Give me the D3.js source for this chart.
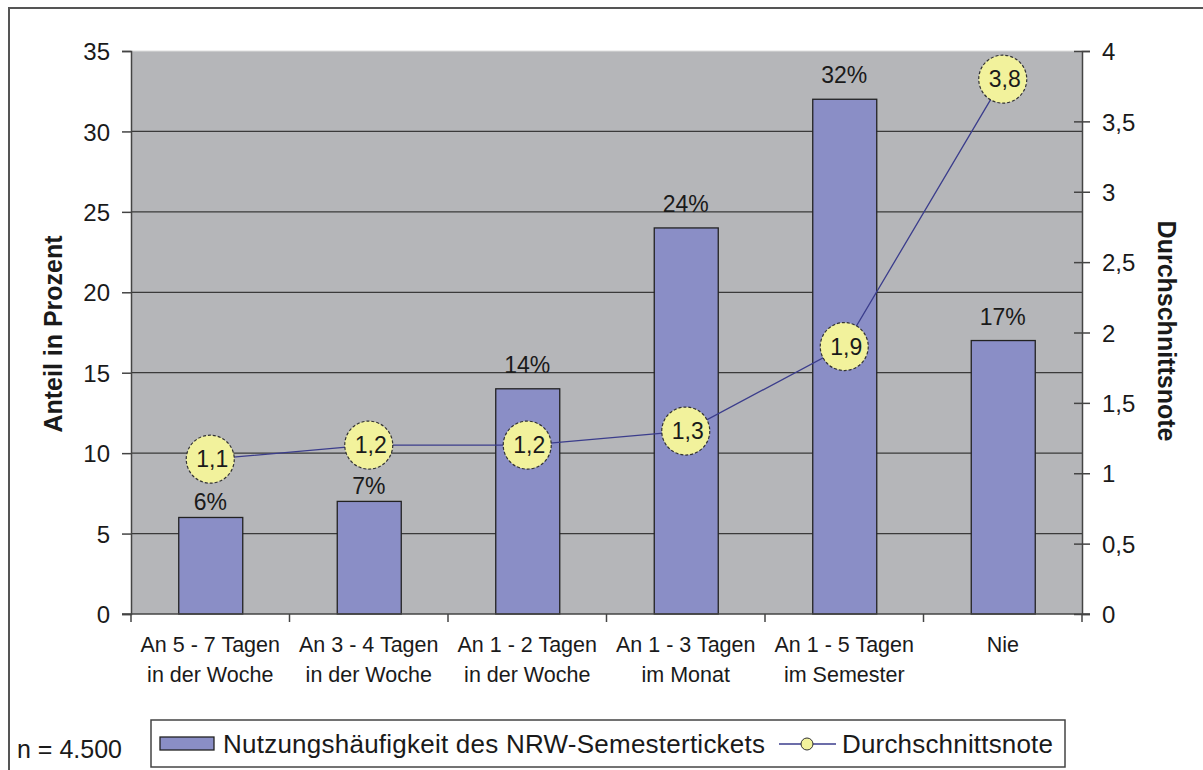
<!DOCTYPE html>
<html>
<head>
<meta charset="utf-8">
<script src="https://cdn.jsdelivr.net/npm/d3@7"></script>
<style>
body{margin:0;background:#fff;}
text{font-family:"Liberation Sans",Arial,sans-serif;fill:#1a1a1a;}
</style>
</head>
<body>
<svg id="chart" width="1203" height="770"></svg>
<script>
var categories = [['An 5 - 7 Tagen','in der Woche'],['An 3 - 4 Tagen','in der Woche'],['An 1 - 2 Tagen','in der Woche'],['An 1 - 3 Tagen','im Monat'],['An 1 - 5 Tagen','im Semester'],['Nie','']]
var anteil = [6, 7, 14, 24, 32, 17]
var noten = [1.1, 1.2, 1.2, 1.3, 1.9, 3.8]
var leftTicks = [0, 5, 10, 15, 20, 25, 30, 35]
var rightTicks = [0, 0.5, 1, 1.5, 2, 2.5, 3, 3.5, 4]

var svg = d3.select('#chart')
var pLeft = 131, pRight = 1082, pTop = 51, pBottom = 614

// outer frame
svg.append('path').attr('d','M9 770 L9 8 L1203 8').attr('fill','none').attr('stroke','#555').attr('stroke-width',2)

var x = d3.scaleBand().domain(d3.range(categories.length)).range([pLeft, pRight])
var y = d3.scaleLinear().domain([0, 35]).range([pBottom, pTop])
var y2 = d3.scaleLinear().domain([0, 4]).range([pBottom, pTop])
var fmt = function(v){ return String(v).replace('.', ',') }
var rCircle = 24

svg.append('rect').attr('x', pLeft).attr('y', pTop).attr('width', pRight-pLeft).attr('height', pBottom-pTop).attr('fill','#b5b6b9')

svg.selectAll('.grid').data(leftTicks.filter(d => d > 0 && d < 35)).join('line')
    .attr('class','grid').attr('x1', pLeft).attr('x2', pRight)
    .attr('y1', d => y(d)).attr('y2', d => y(d)).attr('stroke','#3a3a3a').attr('stroke-width',1.3)
svg.append('line').attr('x1',pLeft).attr('x2',pRight).attr('y1',pTop).attr('y2',pTop).attr('stroke','#ddd').attr('stroke-width',1)

// bars
var bw = 64
svg.selectAll('.bar').data(anteil).join('rect').attr('class','bar')
    .attr('x', (d,i) => x(i) + x.bandwidth()/2 - bw/2 + 0.5)
    .attr('y', d => y(d)).attr('width', bw).attr('height', d => pBottom - y(d))
    .attr('fill','#8a8ec6').attr('stroke','#222').attr('stroke-width',1.3)

// label sits closer to the bar when the circle above would cover it
svg.selectAll('.barlab').data(anteil).join('text').attr('class','barlab')
    .attr('x', (d,i) => x(i) + x.bandwidth()/2)
    .attr('y', function(d,i){
        var yy = y(d) - 16
        var cb = y2(noten[i]) + rCircle
        if (yy - 22 < cb && yy > y2(noten[i])) yy = y(d) - 7
        return yy
    })
    .attr('text-anchor','middle').attr('font-size',23).text(d => d + '%')

// left axis
var gl = svg.append('g').attr('transform', `translate(${pLeft},0)`)
    .call(d3.axisLeft(y).tickValues(leftTicks).tickSize(9).tickPadding(12))
gl.selectAll('text').attr('font-size',24).attr('dy','0.36em').style('font-family','"Liberation Sans",Arial,sans-serif')
gl.select('.domain').attr('stroke','#444').attr('stroke-width',1.5)
gl.selectAll('.tick line').attr('stroke','#444').attr('stroke-width',1.5)

// right axis
var gr = svg.append('g').attr('transform', `translate(${pRight},0)`)
    .call(d3.axisRight(y2).tickValues(rightTicks).tickFormat(fmt).tickSize(8).tickPadding(12))
gr.selectAll('.tick line').attr('x1',-8).attr('stroke','#444').attr('stroke-width',1.5)
gr.selectAll('text').attr('font-size',24).attr('dy','0.36em').style('font-family','"Liberation Sans",Arial,sans-serif')
gr.select('.domain').attr('stroke','#444').attr('stroke-width',1.5)

// bottom axis
var gb = svg.append('g').attr('transform', `translate(0,${pBottom})`)
gb.append('line').attr('x1',pLeft-9).attr('x2',pRight+8).attr('stroke','#444').attr('stroke-width',1.5)
gb.selectAll('.xt').data(d3.range(categories.length+1)).join('line').attr('class','xt')
    .attr('x1', i => pLeft + i*x.bandwidth()).attr('x2', i => pLeft + i*x.bandwidth())
    .attr('y1',0).attr('y2',8).attr('stroke','#444').attr('stroke-width',1.5)
var xl = gb.selectAll('.xl').data(categories).join('text').attr('class','xl')
    .attr('text-anchor','middle').attr('font-size',21.5)
    .attr('transform', (d,i) => `translate(${x(i)+x.bandwidth()/2},0)`)
xl.append('tspan').attr('x',0).attr('y',38).text(d => d[0])
xl.append('tspan').attr('x',0).attr('y',68).text(d => d[1])

// line + circles
var line = d3.line().x((d,i) => x(i) + x.bandwidth()/2).y(d => y2(d))
svg.append('path').datum(noten).attr('d', line).attr('fill','none').attr('stroke','#3b3d8c').attr('stroke-width',1.3)
svg.selectAll('.pt').data(noten).join('circle').attr('class','pt')
    .attr('cx', (d,i) => x(i) + x.bandwidth()/2).attr('cy', d => y2(d)).attr('r',rCircle)
    .attr('fill','#f2f29c').attr('stroke','#333').attr('stroke-width',1.2).attr('stroke-dasharray','3,2')
svg.selectAll('.ptlab').data(noten).join('text').attr('class','ptlab')
    .attr('x', (d,i) => x(i) + x.bandwidth()/2 + 2).attr('y', d => y2(d) + 8)
    .attr('text-anchor','middle').attr('font-size',23).text(fmt)

// axis titles
svg.append('text').attr('transform','translate(62,334) rotate(-90)').attr('text-anchor','middle')
    .attr('font-size',25).attr('font-weight','bold').text('Anteil in Prozent')
svg.append('text').attr('transform','translate(1158,331) rotate(90)').attr('text-anchor','middle')
    .attr('font-size',25).attr('font-weight','bold').text('Durchschnittsnote')

// legend
var lg = svg.append('g')
lg.append('rect').attr('x',151).attr('y',720).attr('width',914).attr('height',47).attr('fill','#fff').attr('stroke','#444').attr('stroke-width',1.5)
lg.append('rect').attr('x',160).attr('y',737).attr('width',54).attr('height',13).attr('fill','#8a8ec6').attr('stroke','#222').attr('stroke-width',1.3)
lg.append('text').attr('x',223).attr('y',753).attr('font-size',26).attr('textLength',542).text('Nutzungshäufigkeit des NRW-Semestertickets')
lg.append('line').attr('x1',779).attr('x2',836).attr('y1',744).attr('y2',744).attr('stroke','#3b3d8c').attr('stroke-width',1.3)
lg.append('circle').attr('cx',807).attr('cy',744).attr('r',6).attr('fill','#f2f29c').attr('stroke','#333')
lg.append('text').attr('x',842).attr('y',753).attr('font-size',26).attr('textLength',211).text('Durchschnittsnote')

svg.append('text').attr('x',17).attr('y',758).attr('font-size',25).text('n = 4.500')
</script>
</body>
</html>
